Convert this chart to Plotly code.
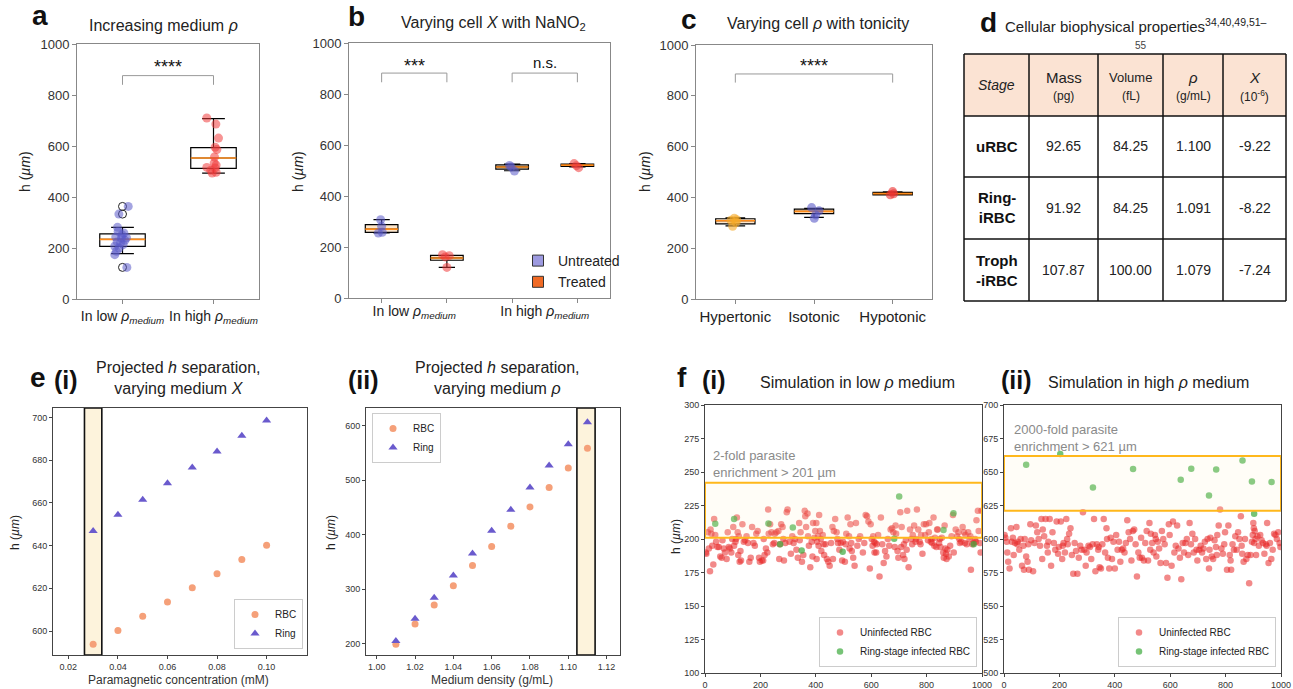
import plotly.graph_objects as go

W, H = 1293, 689
def X(px): return px / W
def Y(py): return 1 - py / H

# ---------------- DATA ----------------
# panel a
a_pos = [1, 2]
a_labels = ["In low <i>ρ<sub>medium</sub></i>", "In high <i>ρ<sub>medium</sub></i>"]
a_q1 = [206, 512]
a_med = [234, 553]
a_q3 = [255, 594]
a_lo = [178, 494]
a_hi = [281, 707]
a_fliers = [124, 333, 363]
a_low_dx = [0.048, -0.040, 0.063, -0.055, 0.015, -0.074, -0.011, 0.026, -0.059, -0.022, -0.085, -0.037, -0.066, -0.085, 0.007, -0.007, 0.044, -0.048]
a_low_y = [124, 333, 363, 281, 259, 243, 239, 230, 224, 220, 207, 200, 187, 174, 213, 252, 240, 265]
a_high_dx = [-0.074, 0.026, 0.055, 0.018, 0.037, 0.011, 0.007, 0.029, -0.074, -0.029, 0.029, -0.015, 0.018]
a_high_y = [710, 686, 631, 595, 586, 557, 533, 525, 516, 505, 497, 494, 514]
a_sig = dict(x=[1, 2], y=[840, 876], text="****")

# panel b
b_pos = [1, 2, 3, 4]
b_group_pos = [1.5, 3.5]
b_group_labels = ["In low <i>ρ<sub>medium</sub></i>", "In high <i>ρ<sub>medium</sub></i>"]
b_q1 = [257, 148, 505, 516]
b_med = [270, 157, 514, 521]
b_q3 = [288, 167, 522, 525]
b_lo = [255, 120, 499, 514]
b_hi = [307, 167, 525, 527]
b_untreated_x = [1, 1, 1, 1, 3, 3, 3]
b_untreated_dx = [-0.015, 0.0, -0.05, 0.01, -0.04, 0.036, -0.015]
b_untreated_y = [307, 281, 255, 258, 520, 498, 514]
b_treated_x = [2, 2, 2, 2, 4, 4, 4]
b_treated_dx = [-0.067, 0.036, 0.0, -0.026, -0.05, 0.02, -0.015]
b_treated_y = [170, 166, 120, 161, 527, 511, 519]
b_sigs = [dict(x=[1, 2], y=[846, 882], text="***"), dict(x=[3, 4], y=[846, 882], text="n.s.")]

# panel c
c_pos = [1, 2, 3]
c_labels = ["Hypertonic", "Isotonic", "Hypotonic"]
c_q1 = [296, 336, 410]
c_med = [308, 345, 415]
c_q3 = [316, 354, 420]
c_lo = [288, 321, 410]
c_hi = [319, 357, 422]
c_pts_dx = [[-0.013, 0.017, -0.034, 0.009, -0.055], [-0.03, 0.064, 0.004, 0.021], [0.0, -0.03, 0.013]]
c_pts_y = [[318, 312, 286, 301, 310], [360, 347, 318, 331], [423, 410, 414]]
c_pt_colors = ["rgba(245,170,40,0.6)", "rgba(90,90,200,0.6)", "rgba(235,50,50,0.6)"]
c_sig = dict(x=[1, 3], y=[852, 886], text="****")

# panel d (table)
d_header = ["<i>Stage</i>", "Mass", "Volume", "<i>ρ</i>", "<i>X</i>"]
d_units = ["", "(pg)", "(fL)", "(g/mL)", "(10<sup>-6</sup>)"]
d_stage = ["uRBC", "Ring-<br>iRBC", "Troph<br>-iRBC"]
d_mass = ["92.65", "91.92", "107.87"]
d_volume = ["84.25", "84.25", "100.00"]
d_rho = ["1.100", "1.091", "1.079"]
d_chi = ["-9.22", "-8.22", "-7.24"]

# panel e(i)
e1_x = [0.03, 0.04, 0.05, 0.06, 0.07, 0.08, 0.09, 0.10]
e1_rbc = [593.8, 600.3, 606.9, 613.6, 620.3, 626.8, 633.5, 640.2]
e1_ring = [646.8, 654.4, 661.5, 669.2, 676.6, 684.0, 691.4, 698.6]
e1_band = [0.0265, 0.0335]
# panel e(ii)
e2_x = [1.01, 1.02, 1.03, 1.04, 1.05, 1.06, 1.07, 1.08, 1.09, 1.10, 1.11]
e2_rbc = [198.2, 235.5, 270.4, 305.9, 343.3, 378.2, 415.6, 451.1, 486.7, 522.8, 558.9]
e2_ring = [204.3, 245.3, 283.9, 324.9, 365.4, 407.0, 445.6, 486.7, 527.1, 566.3, 606.7]
e2_band = [1.1045, 1.114]

# panel f(i)
f1_red_x = [3,5,10,14,18,20,23,26,30,33,37,40,45,50,55,60,63,68,72,78,82,86,90,95,98,
            102,105,110,112,115,118,120,122,125,128,130,135,140,145,150,155,160,165,170,175,180,185,190,195,198,
            205,210,212,215,220,225,228,230,235,240,245,250,252,258,265,268,270,275,280,283,285,290,295,298,
            305,310,315,320,325,330,335,340,342,345,350,355,360,362,365,370,372,375,380,385,388,390,395,398,
            402,403,405,408,410,412,415,418,420,425,428,430,435,440,445,450,455,460,462,465,470,475,478,480,485,490,495,498,
            505,508,510,515,520,522,525,528,530,535,540,545,550,555,560,570,575,580,585,590,595,598,
            602,605,607,610,612,615,618,620,625,630,635,640,645,650,655,660,665,670,675,680,685,688,690,695,698,
            705,708,710,715,718,720,725,728,730,735,740,745,748,750,755,760,762,765,770,775,778,780,785,790,795,798,
            805,808,810,815,818,820,825,828,830,835,838,840,845,848,850,855,860,862,865,868,870,872,875,880,885,890,895,898,
            905,910,915,918,920,925,930,935,938,940,945,950,955,958,960,965,970,975,978,980,985,988,992,995,998]
f1_red_y = [190,189,205,193,176,207,204,195,181,215,203,198,194,194,187,186,199,193,190,185,205,194,193,190,200,
            209,195,198,200,216,205,188,202,183,191,184,211,198,199,202,197,183,186,209,197,195,204,206,186,183,
            184,184,200,188,193,190,222,204,211,205,196,197,204,205,206,185,196,211,209,200,184,197,220,222,
            198,189,202,197,200,192,186,212,199,205,183,188,221,217,209,219,202,195,179,198,187,212,201,206,
            212,185,198,202,195,218,206,200,191,203,196,188,196,185,183,180,197,209,185,206,215,205,200,197,192,197,184,198,
            183,196,204,216,202,193,211,197,191,186,180,212,195,200,202,190,197,218,217,213,178,211,
            200,195,202,198,190,197,190,196,203,172,216,196,182,191,187,200,195,207,208,205,194,210,204,191,186,
            220,194,209,188,196,185,199,192,221,179,207,200,196,203,210,198,200,222,207,198,196,203,189,211,203,211,
            199,205,212,198,200,197,216,195,201,194,207,207,197,200,194,201,190,186,210,193,189,185,192,187,195,202,218,190,
            207,202,205,200,197,198,209,205,197,203,196,205,200,202,177,196,197,200,198,214,221,206,197,190,221]
f1_green_x = [37, 105, 229, 271, 317, 349, 497, 683, 701, 861, 897, 970]
f1_green_y = [211.3, 215, 211.6, 196, 208.6, 191.4, 190.4, 200.1, 231.7, 206.8, 219.3, 196]
f1_band = [201, 242]

# panel f(ii)
f2_red_x = [2,5,10,12,15,20,25,28,32,35,40,45,48,50,55,60,65,70,72,75,80,85,88,90,95,98,
            105,110,115,120,125,130,135,138,140,145,150,155,158,160,165,170,175,180,185,190,195,198,
            205,210,212,215,220,225,228,230,235,240,245,250,255,260,265,270,275,280,285,290,295,298,
            305,310,315,320,325,330,335,340,342,345,350,355,360,365,370,372,375,380,385,390,395,400,
            405,410,415,420,425,430,435,440,445,450,455,460,465,470,475,480,485,490,495,498,
            505,510,515,520,525,528,530,535,540,545,548,550,555,560,565,570,575,580,585,590,595,598,
            605,610,615,620,625,630,635,640,645,650,655,660,665,670,675,680,685,690,695,698,
            705,710,715,720,725,730,735,740,742,745,750,755,760,765,768,770,775,780,785,790,795,798,
            805,810,815,818,820,825,830,835,840,845,850,855,858,860,865,870,875,880,885,890,895,898,
            900,902,903,905,908,910,915,920,925,930,935,940,945,948,950,955,960,965,970,975,980,985,990,995,998]
f2_red_y = [603,601,598,590,583,578,608,598,601,588,597,609,596,598,592,600,580,595,577,600,587,583,596,577,611,599,
            576,597,610,605,600,595,615,585,607,602,615,595,590,598,615,580,605,597,592,613,589,594,
            613,585,595,597,590,615,600,596,604,608,588,574,597,591,574,586,595,592,620,592,580,590,
            595,594,585,596,615,576,596,592,594,579,578,596,615,590,608,600,586,578,601,585,598,578,
            603,592,598,583,592,593,590,597,614,605,600,584,606,607,596,572,590,586,601,586,
            584,597,606,584,612,592,604,597,590,603,600,587,598,593,582,606,600,596,582,571,611,603,
            580,613,590,595,610,593,586,570,597,590,597,600,588,612,596,604,590,600,592,584,
            592,595,590,593,598,585,600,578,592,601,587,585,599,594,588,603,610,622,593,589,596,605,
            577,610,588,584,577,596,592,602,592,605,600,617,595,589,583,600,585,588,567,588,598,603,
            612,608,597,606,600,588,602,595,603,599,597,589,596,595,612,582,597,585,592,604,603,600,605,597,594]
f2_green_x = [80, 203, 321, 466, 638, 676, 740, 766, 861, 895, 966, 903]
f2_green_y = [655.5, 663.5, 638.4, 652.3, 644.3, 652.5, 632.4, 651.8, 658.5, 643, 642.6, 618.8]
f2_band = [621, 662]

# ---------------- STYLE ----------------
FONT = "Liberation Sans, Arial, sans-serif"
BOX_FILL_A = "white"
BOX_FILL = "#fde6cc"
MED_COL = "#ff8c1a"
RBC_COL = "#f5a079"
RING_COL = "#6a5acd"
RED_F = "rgba(232,40,40,0.55)"
GREEN_F = "rgba(60,170,60,0.7)"

fig = go.Figure()

def add_boxes(xa, ya, pos, q1, med, q3, lo, hi, fill):
    fig.add_trace(go.Box(x=pos, q1=q1, median=med, q3=q3, lowerfence=lo, upperfence=hi,
                         width=0.5, whiskerwidth=0.5, fillcolor=fill, boxpoints=False,
                         line=dict(color="black", width=1.2), xaxis=xa, yaxis=ya,
                         showlegend=False, hoverinfo="skip"))
    mx, my = [], []
    for p, m in zip(pos, med):
        mx += [p - 0.25, p + 0.25, None]
        my += [m, m, None]
    fig.add_trace(go.Scatter(x=mx, y=my, mode="lines", line=dict(color=MED_COL, width=1.6),
                             xaxis=xa, yaxis=ya, showlegend=False, hoverinfo="skip"))

def add_sig(xa, ya, sig):
    x0, x1 = sig["x"]
    y0, y1 = sig["y"]
    fig.add_trace(go.Scatter(x=[x0, x0, x1, x1], y=[y0, y1, y1, y0], mode="lines",
                             line=dict(color="#999", width=1), xaxis=xa, yaxis=ya,
                             showlegend=False, hoverinfo="skip"))

# panel a
add_boxes("x", "y", a_pos, a_q1, a_med, a_q3, a_lo, a_hi, BOX_FILL_A)
fig.add_trace(go.Scatter(x=[1] * len(a_fliers), y=a_fliers, mode="markers",
                         marker=dict(symbol="circle-open", size=8, color="#222", line=dict(width=1)),
                         xaxis="x", yaxis="y", showlegend=False))
fig.add_trace(go.Scatter(x=[1 + d for d in a_low_dx], y=a_low_y, mode="markers",
                         marker=dict(size=9, color="rgba(90,90,200,0.55)"), xaxis="x", yaxis="y", showlegend=False))
fig.add_trace(go.Scatter(x=[2 + d for d in a_high_dx], y=a_high_y, mode="markers",
                         marker=dict(size=9, color="rgba(240,60,60,0.55)"), xaxis="x", yaxis="y", showlegend=False))
add_sig("x", "y", a_sig)

# panel b
add_boxes("x2", "y2", b_pos, b_q1, b_med, b_q3, b_lo, b_hi, BOX_FILL)
fig.add_trace(go.Scatter(x=[p + d for p, d in zip(b_untreated_x, b_untreated_dx)], y=b_untreated_y, mode="markers",
                         marker=dict(size=9, color="rgba(90,90,200,0.55)"), xaxis="x2", yaxis="y2", showlegend=False))
fig.add_trace(go.Scatter(x=[p + d for p, d in zip(b_treated_x, b_treated_dx)], y=b_treated_y, mode="markers",
                         marker=dict(size=9, color="rgba(240,60,60,0.55)"), xaxis="x2", yaxis="y2", showlegend=False))
for s in b_sigs:
    add_sig("x2", "y2", s)
fig.add_trace(go.Scatter(x=[None], y=[None], mode="markers", name="Untreated",
                         marker=dict(symbol="square", size=11, color="#9d9ae0", line=dict(color="#333", width=1)),
                         xaxis="x2", yaxis="y2", legend="legend"))
fig.add_trace(go.Scatter(x=[None], y=[None], mode="markers", name="Treated",
                         marker=dict(symbol="square", size=11, color="#f06a25", line=dict(color="#333", width=1)),
                         xaxis="x2", yaxis="y2", legend="legend"))

# panel c
add_boxes("x3", "y3", c_pos, c_q1, c_med, c_q3, c_lo, c_hi, BOX_FILL)
for p, dxs, ys, col in zip(c_pos, c_pts_dx, c_pts_y, c_pt_colors):
    fig.add_trace(go.Scatter(x=[p + d for d in dxs], y=ys, mode="markers",
                             marker=dict(size=9, color=col), xaxis="x3", yaxis="y3", showlegend=False))
add_sig("x3", "y3", c_sig)

# panel e
fig.add_trace(go.Scatter(x=e1_x, y=e1_rbc, mode="markers", name="RBC",
                         marker=dict(size=7, color=RBC_COL), xaxis="x4", yaxis="y4", legend="legend2"))
fig.add_trace(go.Scatter(x=e1_x, y=e1_ring, mode="markers", name="Ring",
                         marker=dict(size=8, symbol="triangle-up", color=RING_COL), xaxis="x4", yaxis="y4", legend="legend2"))
fig.add_trace(go.Scatter(x=e2_x, y=e2_rbc, mode="markers", name="RBC",
                         marker=dict(size=7, color=RBC_COL), xaxis="x5", yaxis="y5", legend="legend3"))
fig.add_trace(go.Scatter(x=e2_x, y=e2_ring, mode="markers", name="Ring",
                         marker=dict(size=8, symbol="triangle-up", color=RING_COL), xaxis="x5", yaxis="y5", legend="legend3"))

# panel f
fig.add_trace(go.Scatter(x=f1_red_x, y=f1_red_y, mode="markers", name="Uninfected RBC",
                         marker=dict(size=6.5, color=RED_F), xaxis="x6", yaxis="y6", legend="legend4"))
fig.add_trace(go.Scatter(x=f1_green_x, y=f1_green_y, mode="markers", name="Ring-stage infected RBC",
                         marker=dict(size=6.5, color=GREEN_F), xaxis="x6", yaxis="y6", legend="legend4"))
fig.add_trace(go.Scatter(x=f2_red_x, y=f2_red_y, mode="markers", name="Uninfected RBC",
                         marker=dict(size=6.5, color=RED_F), xaxis="x7", yaxis="y7", legend="legend5"))
fig.add_trace(go.Scatter(x=f2_green_x, y=f2_green_y, mode="markers", name="Ring-stage infected RBC",
                         marker=dict(size=6.5, color=GREEN_F), xaxis="x7", yaxis="y7", legend="legend5"))

# ---------------- AXES ----------------
abc = dict(showline=True, mirror=True, linecolor="#888", linewidth=1, ticks="outside", ticklen=4,
           tickcolor="#888", showgrid=False, zeroline=False, automargin=False,
           tickfont=dict(size=13, color="#333", family=FONT))
ef = dict(showline=True, mirror=True, linecolor="#444", linewidth=1, ticks="outside", ticklen=3,
          tickcolor="#444", showgrid=False, zeroline=False, automargin=False,
          tickfont=dict(size=9, color="#333", family=FONT))

lay = dict(
    xaxis=dict(abc, domain=[X(77), X(259)], range=[0.5, 2.5], tickmode="array", tickvals=a_pos,
               ticktext=a_labels, tickfont=dict(size=14, color="#222", family=FONT), anchor="y"),
    yaxis=dict(abc, domain=[Y(299), Y(44)], range=[0, 1000], dtick=200, anchor="x"),
    xaxis2=dict(abc, domain=[X(349), X(610)], range=[0.5, 4.5], tickmode="array", tickvals=b_group_pos,
                ticktext=b_group_labels, ticks="", tickfont=dict(size=14, color="#222", family=FONT),
                minor=dict(tickmode="array", tickvals=b_pos, ticks="outside", ticklen=4, tickcolor="#888"),
                anchor="y2"),
    yaxis2=dict(abc, domain=[Y(298), Y(43)], range=[0, 1000], dtick=200, anchor="x2"),
    xaxis3=dict(abc, domain=[X(696), X(932)], range=[0.5, 3.5], tickmode="array", tickvals=c_pos,
                ticktext=c_labels, tickfont=dict(size=15, color="#222", family=FONT), anchor="y3"),
    yaxis3=dict(abc, domain=[Y(299), Y(45)], range=[0, 1000], dtick=200, anchor="x3"),
    xaxis4=dict(ef, domain=[X(53), X(307)], range=[0.0138, 0.1163], tickmode="array",
                tickvals=[0.02, 0.04, 0.06, 0.08, 0.10], tickformat=".2f", anchor="y4"),
    yaxis4=dict(ef, domain=[Y(655), Y(408)], range=[588.8, 704.4], tickmode="array",
                tickvals=[600, 620, 640, 660, 680, 700], anchor="x4"),
    xaxis5=dict(ef, domain=[X(366), X(620)], range=[0.9944, 1.127], tickmode="array",
                tickvals=[1.00, 1.02, 1.04, 1.06, 1.08, 1.10, 1.12], tickformat=".2f", anchor="y5"),
    yaxis5=dict(ef, domain=[Y(655), Y(408)], range=[178.6, 633], tickmode="array",
                tickvals=[200, 300, 400, 500, 600], anchor="x5"),
    xaxis6=dict(ef, domain=[X(705), X(982)], range=[0, 1000], dtick=200, anchor="y6"),
    yaxis6=dict(ef, domain=[Y(673), Y(405)], range=[100, 300], dtick=25, anchor="x6"),
    xaxis7=dict(ef, domain=[X(1004), X(1281)], range=[0, 1000], dtick=200, anchor="y7"),
    yaxis7=dict(ef, domain=[Y(673), Y(405)], range=[500, 700], dtick=25, anchor="x7"),
)

# ---------------- SHAPES ----------------
shapes = []
shapes.append(dict(type="rect", xref="x4", yref="y4 domain", x0=e1_band[0], x1=e1_band[1], y0=0, y1=1,
                   fillcolor="#fdf3dc", line=dict(color="#111", width=1.6), layer="below"))
shapes.append(dict(type="rect", xref="x5", yref="y5 domain", x0=e2_band[0], x1=e2_band[1], y0=0, y1=1,
                   fillcolor="#fdf3dc", line=dict(color="#111", width=1.6), layer="below"))
shapes.append(dict(type="rect", xref="x6", yref="y6", x0=0, x1=1000, y0=f1_band[0], y1=f1_band[1],
                   fillcolor="rgba(255,240,200,0.15)", line=dict(color="#ffb81c", width=2), layer="above"))
shapes.append(dict(type="rect", xref="x7", yref="y7", x0=0, x1=1000, y0=f2_band[0], y1=f2_band[1],
                   fillcolor="rgba(255,240,200,0.15)", line=dict(color="#ffb81c", width=2), layer="above"))

# table d
col_edges = [964, 1029, 1098, 1163, 1223, 1286]
row_edges = [54, 116, 177, 239, 301]
shapes.append(dict(type="rect", xref="paper", yref="paper", x0=X(col_edges[0]), x1=X(col_edges[-1]),
                   y0=Y(row_edges[1]), y1=Y(row_edges[0]), fillcolor="#fbe3d3", line=dict(width=0), layer="below"))
for cx in col_edges:
    shapes.append(dict(type="line", xref="paper", yref="paper", x0=X(cx), x1=X(cx),
                       y0=Y(row_edges[-1]), y1=Y(row_edges[0]), line=dict(color="#111", width=1.5)))
for ry in row_edges:
    shapes.append(dict(type="line", xref="paper", yref="paper", x0=X(col_edges[0]), x1=X(col_edges[-1]),
                       y0=Y(ry), y1=Y(ry), line=dict(color="#111", width=1.5)))

# ---------------- ANNOTATIONS ----------------
ann = []
def txt(x, y, text, size, bold=False, color="#111", xanchor="center", yanchor="middle", angle=0, align="center"):
    t = f"<b>{text}</b>" if bold else text
    ann.append(dict(x=X(x), y=Y(y), xref="paper", yref="paper", text=t, showarrow=False,
                    font=dict(size=size, color=color, family=FONT), xanchor=xanchor, yanchor=yanchor,
                    textangle=angle, align=align))

# panel letters
txt(40, 15, "a", 28, bold=True)
txt(357, 16, "b", 28, bold=True)
txt(689, 19, "c", 28, bold=True)
txt(988, 22, "d", 28, bold=True)
txt(38, 378, "e", 28, bold=True)
txt(66, 380, "(i)", 25, bold=True)
txt(363, 380, "(ii)", 25, bold=True)
txt(682, 378, "f", 28, bold=True)
txt(714, 380, "(i)", 25, bold=True)
txt(1017, 380, "(ii)", 25, bold=True)

# titles
txt(163, 26, "Increasing medium <i>ρ</i>", 16, color="#222")
txt(493, 24, "Varying cell <i>X</i> with NaNO<sub>2</sub>", 16, color="#222")
txt(818, 24, "Varying cell <i>ρ</i> with tonicity", 16, color="#222")
txt(1003, 25, "Cellular biophysical properties<sup>34,40,49,51–</sup>", 15, color="#222", xanchor="left")
txt(1141, 45, "55", 10, color="#444")
txt(178, 378, "Projected <i>h</i> separation,<br>varying medium <i>X</i>", 16, color="#222")
txt(497, 378, "Projected <i>h</i> separation,<br>varying medium <i>ρ</i>", 16, color="#222")
txt(857, 382, "Simulation in low <i>ρ</i> medium", 16, color="#222")
txt(1148, 382, "Simulation in high <i>ρ</i> medium", 16, color="#222")

# axis titles
for xx in [25, 298, 645]:
    txt(xx, 172, "h (<i>µm</i>)", 14, color="#222", angle=-90)
txt(15, 533, "h (<i>µm</i>)", 12, color="#222", angle=-90)
txt(331, 533, "h (<i>µm</i>)", 12, color="#222", angle=-90)
txt(676, 537, "h (<i>µm</i>)", 12, color="#222", angle=-90)
txt(178, 680, "Paramagnetic concentration (mM)", 12, color="#333")
txt(492, 680, "Medium density (g/mL)", 12, color="#333")

# f text
txt(711, 464, "2-fold parasite<br>enrichment > 201 µm", 13, color="#8a8a8a", xanchor="left", align="left")
txt(1012, 438, "2000-fold parasite<br>enrichment > 621 µm", 13, color="#8a8a8a", xanchor="left", align="left")

# significance labels
def sig_text(xa, ya, sig, yv, size):
    ann.append(dict(x=sum(sig["x"]) / 2, y=yv, xref=xa, yref=ya, text=sig["text"], showarrow=False,
                    font=dict(size=size, color="#111", family=FONT), yanchor="bottom"))
sig_text("x", "y", a_sig, 864, 18)
sig_text("x2", "y2", b_sigs[0], 864, 18)
sig_text("x2", "y2", b_sigs[1], 884, 15)
sig_text("x3", "y3", c_sig, 872, 18)

# table text
col_c = [(col_edges[i] + col_edges[i + 1]) / 2 for i in range(5)]
row_c = [(row_edges[i] + row_edges[i + 1]) / 2 for i in range(4)]
head_sizes = [14, 15, 13, 15, 15]
for i, (h, u) in enumerate(zip(d_header, d_units)):
    if u:
        txt(col_c[i], 78, h, head_sizes[i], color="#222")
        txt(col_c[i], 96, u, 12, color="#222")
    else:
        txt(col_c[i], row_c[0], h, head_sizes[i], color="#222")
for r in range(3):
    txt(col_c[0], row_c[r + 1], d_stage[r], 15, bold=True, color="#111")
    for ci, col in enumerate([d_mass, d_volume, d_rho, d_chi]):
        txt(col_c[ci + 1], row_c[r + 1], col[r], 14, color="#222")

# ---------------- LEGENDS ----------------
leg_box = dict(bgcolor="rgba(255,255,255,0.9)", bordercolor="#cccccc", borderwidth=1,
               font=dict(size=10, color="#222", family=FONT), tracegroupgap=0)
legends = dict(
    legend=dict(x=X(518), y=Y(245), xanchor="left", yanchor="top", bgcolor="rgba(0,0,0,0)",
                borderwidth=0, font=dict(size=14, color="#222", family=FONT)),
    legend2=dict(leg_box, x=X(303), y=Y(649), xanchor="right", yanchor="bottom"),
    legend3=dict(leg_box, x=X(372), y=Y(413), xanchor="left", yanchor="top"),
    legend4=dict(leg_box, x=X(977), y=Y(667), xanchor="right", yanchor="bottom"),
    legend5=dict(leg_box, x=X(1276), y=Y(667), xanchor="right", yanchor="bottom"),
)

fig.update_layout(width=W, height=H, margin=dict(l=0, r=0, t=0, b=0, autoexpand=False), paper_bgcolor="white",
                  plot_bgcolor="white", font=dict(family=FONT), shapes=shapes, annotations=ann,
                  **lay, **legends)

fig.write_html("out.html", config={"displayModeBar": False},
               post_script="document.body.style.margin='0';document.body.style.padding='0';"
                           "document.body.style.overflow='hidden';")
